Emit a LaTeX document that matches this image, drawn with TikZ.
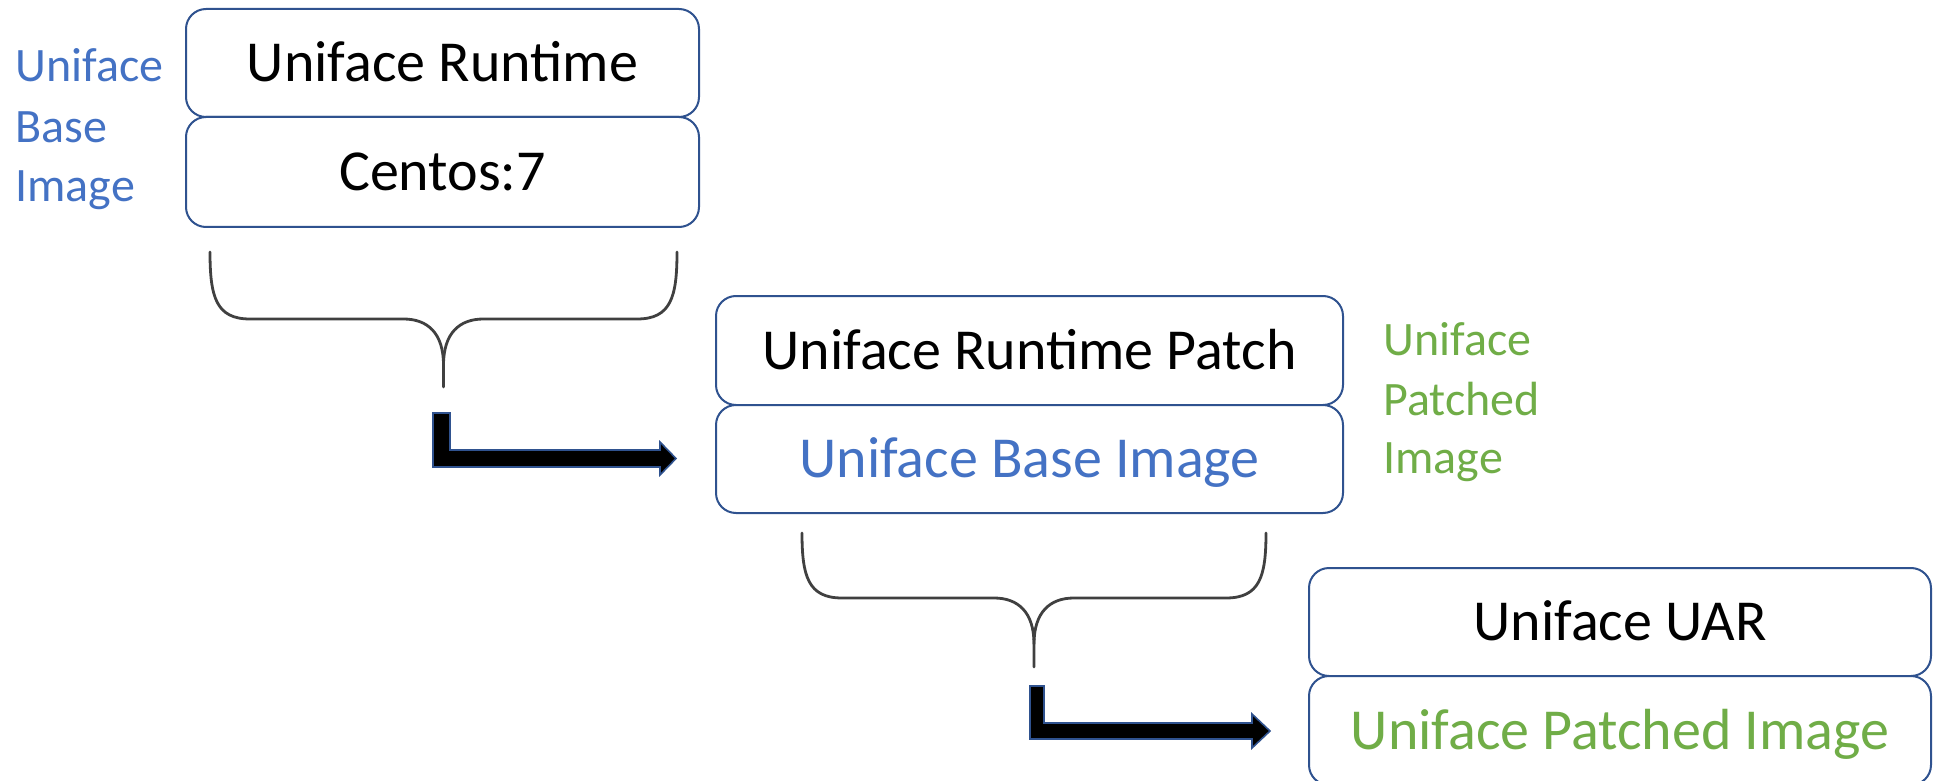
\documentclass[tikz,border=0pt]{standalone}
\usepackage{fontspec}
\setmainfont{Carlito}
\definecolor{boxline}{HTML}{2F528F}
\definecolor{txtblue}{HTML}{4472C4}
\definecolor{txtgreen}{HTML}{70AD47}
\newcommand\mybrace[5]{%
  \pgfmathsetmacro\bc{(#1+#2)/2}%
  \draw[bracestyle] (#1,#3) .. controls (#1,#4-22) and (#1+6,#4) .. (#1+40,#4)
     -- (\bc-40,#4) .. controls (\bc-16,#4) and (\bc,#4+14) .. (\bc,#4+46) -- (\bc,#5);
  \draw[bracestyle] (#2,#3) .. controls (#2,#4-22) and (#2-6,#4) .. (#2-40,#4)
     -- (\bc+40,#4) .. controls (\bc+16,#4) and (\bc,#4+14) .. (\bc,#4+46);
}
\begin{document}
\begin{tikzpicture}[x=0.5pt,y=-0.5pt,
  box/.style={draw=boxline, line width=1pt, rounded corners=10pt, fill=white, inner sep=0pt,
    font=\fontsize{29}{34}\selectfont, text height=18.7pt, text depth=0pt},
  lbl/.style={anchor=base west, inner sep=0pt, font=\fontsize{24}{29}\selectfont},
  bracestyle/.style={draw=black!75, line width=1.4pt, line cap=round},
  blockarrow/.style={fill=black, draw=boxline, line width=0.8pt, line join=miter}]
\clip (0,0) rectangle (1935,781);
% top stack
\node[box, minimum width=256.5pt, minimum height=54pt] (A1) at (442.5,63) {Uniface Runtime};
\node[box, minimum width=256.5pt, minimum height=55pt] (A2) at (442.5,172) {Centos:7};
\node[lbl, text=txtblue] (LA1) at (15,82) {Uniface};
\node[lbl, text=txtblue] (LA2) at (15,143) {Base};
\node[lbl, text=txtblue] (LA3) at (15,202) {Image};
% middle stack
\node[box, minimum width=313.5pt, minimum height=54.5pt] (B1) at (1029.5,350.5) {Uniface Runtime Patch};
\node[box, minimum width=313.5pt, minimum height=54pt, text=txtblue] (B2) at (1029.5,459) {Uniface Base Image};
\node[lbl, text=txtgreen] (LB1) at (1383,355) {Uniface};
\node[lbl, text=txtgreen] (LB2) at (1383,415) {Patched};
\node[lbl, text=txtgreen] (LB3) at (1383,473) {Image};
% bottom stack
\node[box, minimum width=311pt, minimum height=54pt] (C1) at (1620,622) {Uniface UAR};
\node[box, minimum width=311pt, minimum height=54.5pt, text=txtgreen] (C2) at (1620,730.5) {Uniface Patched Image};
% braces
\mybrace{210}{677}{252}{319}{387}
\mybrace{802}{1266}{533}{598}{667}
% block arrows
\draw[blockarrow] (433,413) -- (450,413) -- (450,450) -- (660,450) -- (660,442) -- (676,458.5)
   -- (660,475) -- (660,467) -- (433,467) -- cycle;
\draw[blockarrow] (1030,686) -- (1044,686) -- (1044,723) -- (1252,723) -- (1252,714) -- (1270,731)
   -- (1252,748) -- (1252,739) -- (1030,739) -- cycle;
\end{tikzpicture}
\end{document}
